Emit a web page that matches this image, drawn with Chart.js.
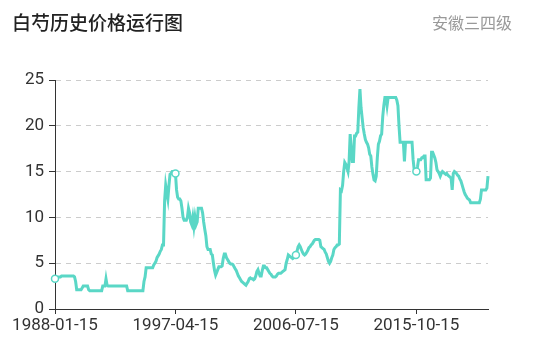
<!DOCTYPE html>
<html>
<head>
<meta charset="utf-8">
<script src="https://cdn.jsdelivr.net/npm/chart.js@4"></script>
<style>
  body { margin: 0; background: #fff; }
  #wrap { position: relative; width: 534px; height: 348px; }
  .title { position: absolute; left: 12px; top: 11px; font: 500 19px "Noto Sans CJK SC", sans-serif; line-height: 22px; color: #222; }
  .sub { position: absolute; right: 22px; top: 12px; font: 16px "Noto Sans CJK SC", sans-serif; line-height: 20px; color: #999; }
</style>
</head>
<body>
<div id="wrap">
  <canvas id="priceChart"></canvas>
  <div class="title">白芍历史价格运行图</div>
  <div class="sub">安徽三四级</div>
</div>
<script>
// monthly price, 1988-01 .. 2021-04 (one row per year)
const prices = [
    3.3, 3.4, 3.4, 3.5, 3.5, 3.5, 3.6, 3.6, 3.6, 3.6, 3.6, 3.6,
    3.6, 3.6, 3.6, 3.6, 3.6, 3.6, 3.5, 3.0, 2.1, 2.1, 2.1, 2.1,
    2.1, 2.3, 2.5, 2.5, 2.5, 2.5, 2.5, 2.1, 2.0, 2.0, 2.0, 2.0,
    2.0, 2.0, 2.0, 2.0, 2.0, 2.0, 2.0, 2.0, 2.5, 2.5, 2.5, 3.3,
    2.6, 2.5, 2.5, 2.5, 2.5, 2.5, 2.5, 2.5, 2.5, 2.5, 2.5, 2.5,
    2.5, 2.5, 2.5, 2.5, 2.5, 2.5, 2.5, 2.0, 2.0, 2.0, 2.0, 2.0,
    2.0, 2.0, 2.0, 2.0, 2.0, 2.0, 2.0, 2.0, 2.0, 2.0, 3.0, 3.5,
    4.5, 4.5, 4.5, 4.5, 4.5, 4.5, 4.5, 4.8, 5.0, 5.2, 5.6, 5.8,
    6.0, 6.3, 6.5, 7.0, 7.0, 11.8, 13.5, 12.7, 12.0, 13.5, 14.7, 14.8,
    15.0, 15.0, 15.0, 14.8, 13.0, 12.2, 12.0, 12.0, 11.8, 11.0, 10.0, 9.7,
    9.7, 9.7, 10.0, 11.0, 10.5, 9.5, 9.2, 10.0, 9.0, 10.0, 9.2, 9.5,
    11.0, 11.0, 11.0, 11.0, 10.5, 9.5, 8.7, 8.0, 6.8, 6.5, 6.5, 6.5,
    6.0, 5.9, 5.0, 4.2, 3.7, 4.0, 4.3, 4.6, 4.6, 4.6, 4.7, 5.5,
    6.0, 6.0, 5.6, 5.4, 5.2, 5.0, 4.9, 4.9, 4.85, 4.6, 4.4, 4.2,
    3.9, 3.6, 3.4, 3.2, 3.0, 2.9, 2.8, 2.7, 2.6, 2.8, 3.0, 3.3,
    3.4, 3.3, 3.3, 3.2, 3.3, 3.6, 4.1, 4.3, 3.9, 3.6, 3.6, 4.2,
    4.7, 4.7, 4.5, 4.5, 4.3, 4.1, 3.9, 3.8, 3.6, 3.5, 3.5, 3.5,
    3.6, 3.8, 3.9, 3.9, 3.9, 4.0, 4.1, 4.2, 4.3, 5.0, 5.4, 5.9,
    5.8, 5.7, 5.6, 5.5, 5.6, 5.8, 5.9, 6.3, 6.8, 7.0, 6.8, 6.5,
    6.2, 6.0, 5.9, 6.0, 6.2, 6.4, 6.7, 6.8, 7.0, 7.1, 7.3, 7.5,
    7.6, 7.6, 7.6, 7.6, 7.5, 6.8, 6.7, 6.6, 6.5, 6.2, 6.0, 5.6,
    5.2, 5.0, 5.2, 5.6, 5.9, 6.5, 6.7, 6.8, 7.0, 7.0, 7.1, 13.0,
    12.9, 13.5, 15.0, 16.0, 15.8, 15.4, 15.0, 16.1, 19.1, 17.5, 16.1, 16.1,
    18.9, 18.9, 19.2, 19.3, 22.0, 24.0, 22.0, 20.9, 19.8, 19.1, 18.5, 18.2,
    18.0, 17.6, 16.9, 16.7, 15.5, 14.7, 14.1, 14.0, 14.5, 16.5, 18.0, 18.3,
    18.9, 19.1, 21.0, 22.2, 23.1, 23.1, 22.2, 23.1, 23.1, 23.1, 23.1, 23.1,
    23.1, 23.1, 23.1, 22.8, 22.2, 20.0, 18.2, 18.2, 18.2, 18.2, 16.1, 18.2,
    18.2, 18.2, 18.2, 18.2, 18.2, 18.2, 16.3, 15.2, 15.0, 15.0, 15.5, 16.3,
    16.3, 16.3, 16.5, 16.5, 16.7, 16.7, 14.1, 14.1, 14.1, 14.1, 14.3, 17.1,
    17.1, 16.8, 16.5, 16.0, 15.2, 15.0, 14.8, 14.5, 14.8, 15.0, 14.9, 14.8,
    14.7, 14.8, 14.6, 14.5, 14.4, 14.3, 13.0, 14.8, 15.0, 14.9, 14.8, 14.6,
    14.5, 14.2, 14.0, 13.6, 13.2, 12.8, 12.5, 12.3, 12.1, 12.0, 11.9, 11.6,
    11.6, 11.6, 11.6, 11.6, 11.6, 11.6, 11.6, 11.6, 12.0, 13.0, 13.0, 13.0,
    13.0, 13.0, 13.2, 14.5
];

const tickLabels = ["1988-01-15", "1997-04-15", "2006-07-15", "2015-10-15"];
const yTicks = [0, 5, 10, 15, 20, 25];
const labelStep = 111;

// one category per month, starting 1988-01-15
let dates = [];
for (let i = 0; i < prices.length; i++) {
    const y = 1988 + Math.floor(i / 12);
    const m = (i % 12) + 1;
    dates.push(y + "-" + String(m).padStart(2, "0") + "-15");
}

const lineColor = "#5ad7c6";
const axisColor = "#333";

let priceChart = new Chart(document.getElementById("priceChart"), {
    type: "line",
    data: {
        labels: dates,
        datasets: [{
            data: prices,
            borderColor: lineColor,
            borderWidth: 3,
            tension: 0,
            pointRadius: ctx => (ctx.dataIndex % labelStep === 0 ? 3.5 : 0),
            pointBackgroundColor: "#fff",
            pointBorderColor: lineColor,
            pointBorderWidth: 1.5
        }]
    },
    options: {
        responsive: true,
        maintainAspectRatio: false,
        animation: false,
        layout: { padding: { left: 0, right: 46, top: 80, bottom: 0 } },
        plugins: { legend: { display: false }, tooltip: { enabled: false } },
        scales: {
            x: {
                type: "category",
                offset: false,
                afterFit: s => { s.height = 39; },
                grid: {
                    drawOnChartArea: false,
                    drawTicks: true,
                    tickLength: 5,
                    tickColor: ctx => (ctx.index % labelStep === 0 ? axisColor : "rgba(0,0,0,0)")
                },
                border: { display: true, color: axisColor, width: 1 },
                ticks: {
                    autoSkip: false,
                    maxRotation: 0,
                    minRotation: 0,
                    padding: 2,
                    color: "#333",
                    font: { family: "Roboto", size: 17 },
                    callback: function (val, index) {
                        const lbl = this.getLabelForValue(val);
                        return tickLabels.includes(lbl) ? lbl : "";
                    }
                }
            },
            y: {
                min: 0,
                max: 25,
                afterFit: s => { s.width = 55; },
                afterBuildTicks: s => { s.ticks = yTicks.map(v => ({ value: v })); },
                grid: {
                    color: "#ccc",
                    tickColor: axisColor,
                    tickLength: 6,
                    tickBorderDash: []
                },
                border: { display: true, color: axisColor, width: 1, dash: [5, 5] },
                ticks: {
                    padding: 5,
                    color: "#333",
                    font: { family: "Roboto", size: 17 }
                }
            }
        }
    }
});
</script>
</body>
</html>
